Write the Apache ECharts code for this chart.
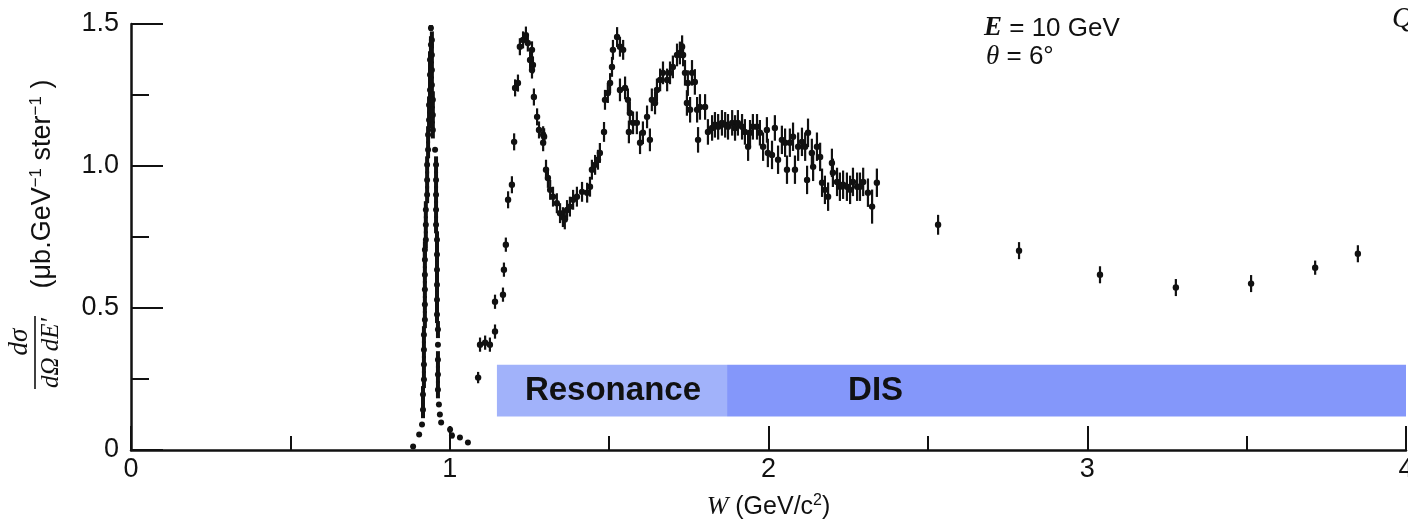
<!DOCTYPE html>
<html>
<head>
<meta charset="utf-8">
<script src="https://cdn.jsdelivr.net/npm/echarts@6/dist/echarts.min.js"></script>
<style>
html,body{margin:0;padding:0;background:#fff;}
#c{width:1408px;height:525px;}
</style>
</head>
<body>
<div id="c"></div>
<script>
// ---- Data ----
// Elastic peak: W (GeV/c^2), cross section, error
const elasticW   = [0.885,0.904,0.913,0.916,0.916,0.919,0.919,0.919,0.919,0.922,0.922,0.922,0.922,0.922,0.922,0.925,0.925,0.925,0.929,0.929,0.929,0.932,0.932,0.935,0.935,0.938,0.938,0.938,0.941,0.941,
                    0.944,0.944,0.944,0.944,0.947,0.947,0.947,0.954,0.957,0.957,0.957,0.957,0.957,0.960,0.960,0.960,0.960,0.960,0.960,0.963,0.963,0.963,0.963,0.963,0.966,0.969,0.973,1.001,1.007,1.032,1.057];
const elasticY   = [0.012,0.055,0.090,0.142,0.195,0.248,0.301,0.353,0.406,0.459,0.512,0.565,0.617,0.670,0.705,0.740,0.793,0.846,0.899,0.951,1.004,1.057,1.110,1.162,1.215,1.268,1.321,1.374,1.427,1.486,
                    1.444,1.391,1.338,1.285,1.233,1.180,1.127,1.057,1.004,0.951,0.899,0.846,0.793,0.740,0.688,0.635,0.582,0.529,0.477,0.424,0.371,0.318,0.266,0.212,0.160,0.125,0.097,0.072,0.051,0.044,0.026];
const elasticErr = [0,0,0,0.03,0.03,0.03,0.03,0.03,0.03,0.03,0.03,0.03,0.03,0.03,0.03,0.03,0.03,0.03,0.03,0.03,0.03,0.03,0.03,0.03,0.03,0.03,0.03,0.03,0.03,0.01,
                    0.03,0.03,0.03,0.03,0.03,0.03,0.03,0,0.03,0.03,0.03,0.03,0.03,0.03,0.03,0.03,0.03,0.03,0.03,0.03,0,0.03,0.03,0.03,0,0,0,0.01,0.01,0,0];

// Inelastic (resonance + DIS) region
const inelW = [1.089,1.095,1.111,1.126,1.142,1.142,1.167,1.170,1.176,1.183,1.195,1.202,1.205,1.214,1.220,1.230,1.239,1.245,1.258,1.252,1.261,1.258,1.264,1.274,1.280,1.293,1.296,1.293,
  1.302,1.308,1.315,1.324,1.336,1.346,1.355,1.361,1.368,1.377,1.387,1.399,1.415,1.431,1.440,1.446,1.456,1.465,1.471,1.484,1.487,1.496,1.503,1.509,1.512,1.525,1.534,1.544,
  1.534,1.550,1.559,1.565,1.562,1.575,1.587,1.597,1.606,1.619,1.628,1.634,1.644,1.650,1.660,1.669,1.682,1.691,1.700,1.713,1.722,1.732,1.729,
  1.738,1.747,1.760,1.769,1.744,1.754,1.776,1.785,1.801,1.779,1.810,1.823,1.832,1.842,1.854,1.864,1.873,1.886,1.895,1.904,1.917,1.926,1.936,1.942,1.951,1.964,1.973,1.983,1.995,1.998,
  2.011,2.020,2.030,2.042,2.052,2.058,2.067,2.077,2.083,2.093,2.105,2.115,2.124,2.121,2.136,2.140,2.152,2.162,2.168,2.177,2.187,2.199,2.202,2.215,2.224,2.234,2.246,2.256,2.265,2.278,2.287,2.297,2.312,2.325,2.340,
  2.532,2.786,3.040,3.278,3.514,3.715,3.849];
const inelY = [0.255,0.371,0.378,0.371,0.417,0.522,0.547,0.635,0.723,0.881,0.934,1.085,1.275,1.292,1.420,1.444,1.461,1.433,1.409,1.373,1.356,1.338,1.243,1.173,1.127,1.110,1.103,1.082,
  0.987,0.958,0.916,0.892,0.869,0.834,0.820,0.812,0.845,0.857,0.881,0.892,0.909,0.906,0.927,0.987,1.004,1.022,1.046,1.120,1.233,1.257,1.292,1.349,1.409,1.454,1.420,1.409,
  1.268,1.275,1.233,1.187,1.120,1.152,1.152,1.082,1.117,1.173,1.092,1.233,1.222,1.268,1.303,1.328,1.303,1.328,1.349,1.391,1.398,1.391,1.420,
  1.328,1.292,1.328,1.296,1.222,1.198,1.198,1.208,1.208,1.092,1.120,1.134,1.145,1.138,1.152,1.145,1.138,1.152,1.134,1.152,1.138,1.120,1.068,1.117,1.138,1.138,1.117,1.068,1.127,1.046,
  1.039,1.134,1.022,1.092,1.082,0.987,1.082,1.103,0.987,1.068,1.085,1.068,1.117,0.951,1.046,0.997,1.068,1.032,0.941,0.916,0.892,1.011,0.976,0.944,0.927,0.934,0.927,0.916,0.944,0.927,0.927,0.944,0.906,0.857,0.941,
  0.793,0.702,0.617,0.572,0.586,0.642,0.691];
const inelErr = [0.02,0.025,0.025,0.025,0.025,0.025,0.025,0.025,0.025,0.03,0.03,0.03,0.03,0.03,0.03,0.03,0.03,0.03,0.03,0.03,0.03,0.03,0.03,0.03,0.03,0.03,0.03,0.03,
  0.035,0.035,0.035,0.035,0.035,0.035,0.035,0.035,0.035,0.035,0.035,0.035,0.035,0.035,0.035,0.035,0.035,0.035,0.035,0.035,0.035,0.035,0.035,0.035,0.035,0.035,0.035,0.035,
  0.04,0.04,0.04,0.04,0.04,0.04,0.04,0.04,0.04,0.04,0.04,0.04,0.04,0.04,0.04,0.04,0.04,0.04,0.04,0.04,0.04,0.04,0.04,
  0.045,0.045,0.045,0.045,0.045,0.045,0.045,0.045,0.045,0.045,0.045,0.045,0.045,0.045,0.045,0.045,0.045,0.045,0.045,0.045,0.045,0.045,0.05,0.045,0.045,0.045,0.045,0.05,0.045,0.05,
  0.05,0.045,0.05,0.05,0.05,0.05,0.05,0.05,0.05,0.05,0.05,0.05,0.05,0.05,0.05,0.05,0.05,0.05,0.05,0.05,0.05,0.05,0.05,0.05,0.05,0.05,0.05,0.05,0.05,0.05,0.05,0.05,0.05,0.06,0.05,
  0.035,0.03,0.03,0.03,0.03,0.025,0.03];

// Region bands
const bandNames = ['Resonance','DIS'];
const bandW     = [[1.148,1.870],[1.870,4.01]];
const bandY     = [0.118,0.300];

const xTicks = [0,1,2,3,4];
const yTicks = [0,0.5,1.0,1.5];

// ---- Chart ----
const chart = echarts.init(document.getElementById('c'));
const sans = '"Liberation Sans", Arial, sans-serif';
const serif = '"Liberation Serif", "DejaVu Serif", serif';

function pack(ws, ys, es){ return ws.map((w,i)=>[w, ys[i], es[i]]); }

function errRender(dot){
  return function(params, api){
    const x = api.value(0), y = api.value(1), e = api.value(2);
    const p = api.coord([x,y]);
    const children = [];
    if (e > 0){
      const t = api.coord([x, y+e]), b = api.coord([x, y-e]);
      children.push({type:'line', shape:{x1:p[0], y1:t[1], x2:p[0], y2:b[1]}, style:{stroke:'#111', lineWidth:dot.lw}});
    }
    children.push({type:'circle', shape:{cx:p[0], cy:p[1], r:dot.r}, style:{fill:'#111'}});
    return {type:'group', children};
  };
}

const option = {
  animation:false,
  backgroundColor:'#fff',
  grid:{left:131, right:2, top:24, bottom:75, containLabel:false, outerBoundsMode:'none'},
  xAxis:{
    type:'value', min:0, max:4, interval:1,
    axisLine:{show:true, lineStyle:{color:'#111', width:2.5}},
    axisTick:{show:true, inside:true, length:24, lineStyle:{color:'#111', width:2}},
    minorTick:{show:true, splitNumber:2, length:14, lineStyle:{color:'#111', width:2}},
    splitLine:{show:false},
    axisLabel:{color:'#111', fontFamily:sans, fontSize:27, margin:6, hideOverlap:false,
      formatter:v=> xTicks.indexOf(v)>=0 ? String(v) : ''},
    name:'{i|W} (GeV/c{s|2})', nameLocation:'middle', nameGap:43,
    nameTextStyle:{color:'#111', fontFamily:sans, fontSize:25,
      rich:{i:{fontFamily:serif, fontStyle:'italic', fontSize:26, color:'#111'},
            s:{fontFamily:sans, fontSize:16, color:'#111', verticalAlign:'top', padding:[0,0,12,0]}}}
  },
  yAxis:{
    type:'value', min:0, max:1.5, interval:0.5,
    axisLine:{show:true, lineStyle:{color:'#111', width:2.5}},
    axisTick:{show:true, inside:true, length:32, lineStyle:{color:'#111', width:2}},
    minorTick:{show:true, splitNumber:2, length:18, lineStyle:{color:'#111', width:2}},
    splitLine:{show:false},
    axisLabel:{color:'#111', fontFamily:sans, fontSize:27, margin:12,
      formatter:v=> v===0 ? '0' : v.toFixed(1)}
  },
  series:[
    {
      type:'custom', name:'bands', renderItem:()=>null, data:[],
      markArea:{
        silent:true,
        data: bandNames.map((n,i)=>[
          {name:n, xAxis:bandW[i][0], yAxis:bandY[0],
           itemStyle:{color: i===0 ? 'rgb(161,178,250)' : 'rgb(132,151,250)'},
           label:{show:true, position:'insideLeft', distance: i===0 ? 28 : 121,
             color:'#111', fontFamily:sans, fontWeight:'bold', fontSize:33}},
          {xAxis:bandW[i][1], yAxis:bandY[1]}
        ])
      }
    },
    {
      type:'custom', name:'elastic', renderItem:errRender({r:3, lw:4}),
      data:pack(elasticW, elasticY, elasticErr), z:5
    },
    {
      type:'custom', name:'inelastic', renderItem:errRender({r:3.2, lw:2.2}),
      data:pack(inelW, inelY, inelErr), z:5
    }
  ],
  graphic:[
    {type:'text', left:984, top:15, style:{text:'{i|E} = 10 GeV', fill:'#111', font:'26px '+sans,
      rich:{i:{fontFamily:serif, fontStyle:'italic', fontWeight:'bold', fontSize:27, fill:'#111'}}}},
    {type:'text', left:986, top:43, style:{text:'{i|θ} = 6°', fill:'#111', font:'26px '+sans,
      rich:{i:{fontFamily:serif, fontStyle:'italic', fontSize:27, fill:'#111'}}}},
    {type:'text', left:1392, top:5, style:{text:'Q', fill:'#111', font:'italic 29px '+serif}},
    // y axis name (rotated)
    {type:'text', x:20, y:342, rotation:Math.PI/2,
      style:{text:'dσ', fill:'#111', font:'italic 27px '+serif, align:'center', verticalAlign:'middle'}},
    {type:'line', shape:{x1:35, y1:316, x2:35, y2:389}, style:{stroke:'#111', lineWidth:1.6}},
    {type:'text', x:51, y:353, rotation:Math.PI/2,
      style:{text:'dΩ dE′', fill:'#111', font:'italic 25px '+serif, align:'center', verticalAlign:'middle'}},
    {type:'text', x:43, y:184, rotation:Math.PI/2,
      style:{text:'(μb.GeV{s|−1} ster{s|−1} )', fill:'#111', font:'27px '+sans, align:'center', verticalAlign:'middle',
        rich:{s:{fontFamily:sans, fontSize:17, fill:'#111', verticalAlign:'top', padding:[0,0,14,0]}}}}
  ]
};
chart.setOption(option);
</script>
</body>
</html>
